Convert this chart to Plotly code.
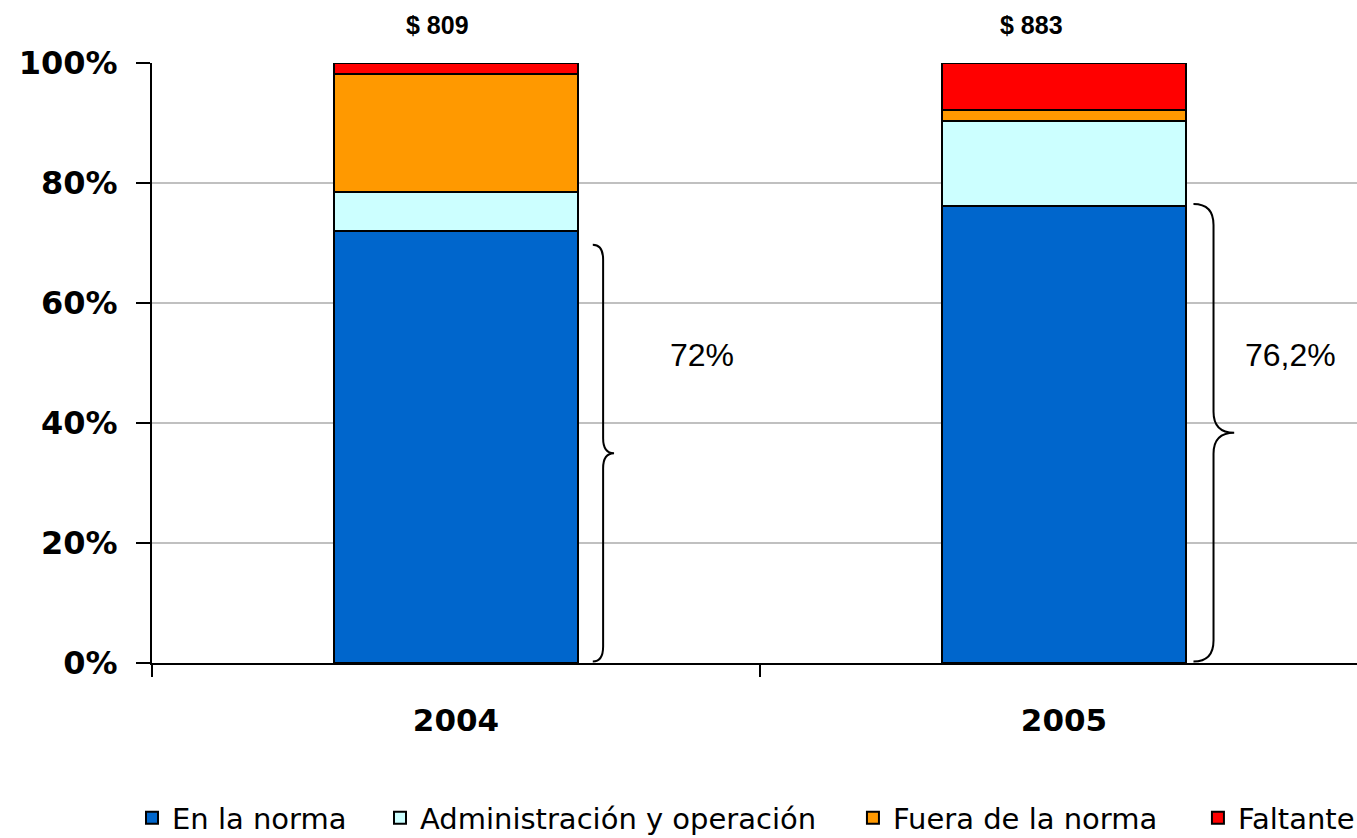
import plotly.graph_objects as go

years = ["2004", "2005"]
series_names = ["En la norma", "Administración y operación", "Fuera de la norma", "Faltante"]
en_la_norma = [72.0, 76.2]
administracion = [6.5, 14.1]
fuera_norma = [19.7, 1.9]
faltante = [1.8, 7.8]
totals = ["$ 809", "$ 883"]
brace_labels = ["72%", "76,2%"]
brace_top = [69.7, 76.5]
y_ticks = [0, 20, 40, 60, 80, 100]

colors = ["#0066CC", "#CCFFFF", "#FF9900", "#FF0000"]
values = [en_la_norma, administracion, fuera_norma, faltante]
xpos = list(range(len(years)))

legend_ids = ["legend", "legend2", "legend3", "legend4"]
legend_x = [-0.0166, 0.1892, 0.5817, 0.8680]

fig = go.Figure()
for name, vals, col, lid in zip(series_names, values, colors, legend_ids):
    fig.add_trace(go.Bar(
        x=xpos, y=vals, name=name, width=0.4, legend=lid,
        marker=dict(color=col, line=dict(color="#000000", width=2)),
        hoverinfo="skip",
    ))

# braces
brace_geo = [(0.225, 0.242, 0.26, 2.5), (0.213, 0.246, 0.28, 3.5)]
for i, (yt, g) in enumerate(zip(brace_top, brace_geo)):
    x0, x1, x2, r = [xpos[i] + g[0], xpos[i] + g[1], xpos[i] + g[2], g[3]]
    yb = 0.25
    ym = (yt + yb) / 2
    path = (f"M {x0},{yt} Q {x1},{yt} {x1},{yt - r} L {x1},{ym + r} "
            f"Q {x1},{ym} {x2},{ym} Q {x1},{ym} {x1},{ym - r} "
            f"L {x1},{yb + r} Q {x1},{yb} {x0},{yb}")
    fig.add_shape(type="path", path=path, xref="x", yref="y",
                  line=dict(color="#000000", width=2))

label_dx = [0.405, 0.373]
for i, lab in enumerate(brace_labels):
    fig.add_annotation(x=xpos[i] + label_dx[i], y=51.3, xref="x", yref="y",
                       text=lab, showarrow=False,
                       font=dict(family="Liberation Sans, Arial", size=32, color="#000000"))

total_dx = [-0.03, -0.054]
for i, t in enumerate(totals):
    fig.add_annotation(x=xpos[i] + total_dx[i], y=1.063, xref="x", yref="paper",
                       yanchor="middle", xanchor="center",
                       text=f"<b>{t}</b>", showarrow=False,
                       font=dict(family="Liberation Sans, Arial", size=25, color="#000000"))

legend_common = dict(orientation="h", xanchor="left", y=-0.258, yanchor="middle",
                     font=dict(family="DejaVu Sans", size=29, color="#000000"),
                     itemclick=False, itemdoubleclick=False, bgcolor="rgba(0,0,0,0)")
legends = {}
for lid, lx in zip(legend_ids, legend_x):
    legends[lid] = dict(legend_common, x=lx)

fig.update_layout(
    template="none",
    barmode="stack",
    width=1357, height=838,
    margin=dict(l=152, r=0, t=63, b=175, autoexpand=False),
    plot_bgcolor="#FFFFFF", paper_bgcolor="#FFFFFF",
    showlegend=True,
    **legends,
    xaxis=dict(
        range=[-0.5, 1.482], tickvals=xpos, ticktext=[f"<b>{y}</b>" for y in years],
        ticks="", showgrid=False, zeroline=False, automargin=False,
        showline=True, linecolor="#000000", linewidth=2,
        tickfont=dict(family="DejaVu Sans", size=31, color="#000000"),
        minor=dict(tickvals=[-0.5, 0.5], ticks="outside", ticklen=12,
                   tickcolor="#000000", tickwidth=1.5, showgrid=False),
        ticklabelstandoff=29,
    ),
    yaxis=dict(
        range=[0, 100], tickvals=y_ticks, ticktext=[f"<b>{v}%</b>" for v in y_ticks],
        ticks="outside", ticklen=14, tickcolor="#000000", tickwidth=1.5,
        showgrid=True, gridcolor="#C0C0C0", gridwidth=1.5, zeroline=False,
        showline=True, linecolor="#000000", linewidth=2, automargin=False,
        tickfont=dict(family="DejaVu Sans", size=32, color="#000000"),
        ticklabelstandoff=12,
    ),
)

fig.write_html("out.html", config={"displayModeBar": False},
               post_script="document.body.style.margin='0';document.body.style.overflow='hidden';")
